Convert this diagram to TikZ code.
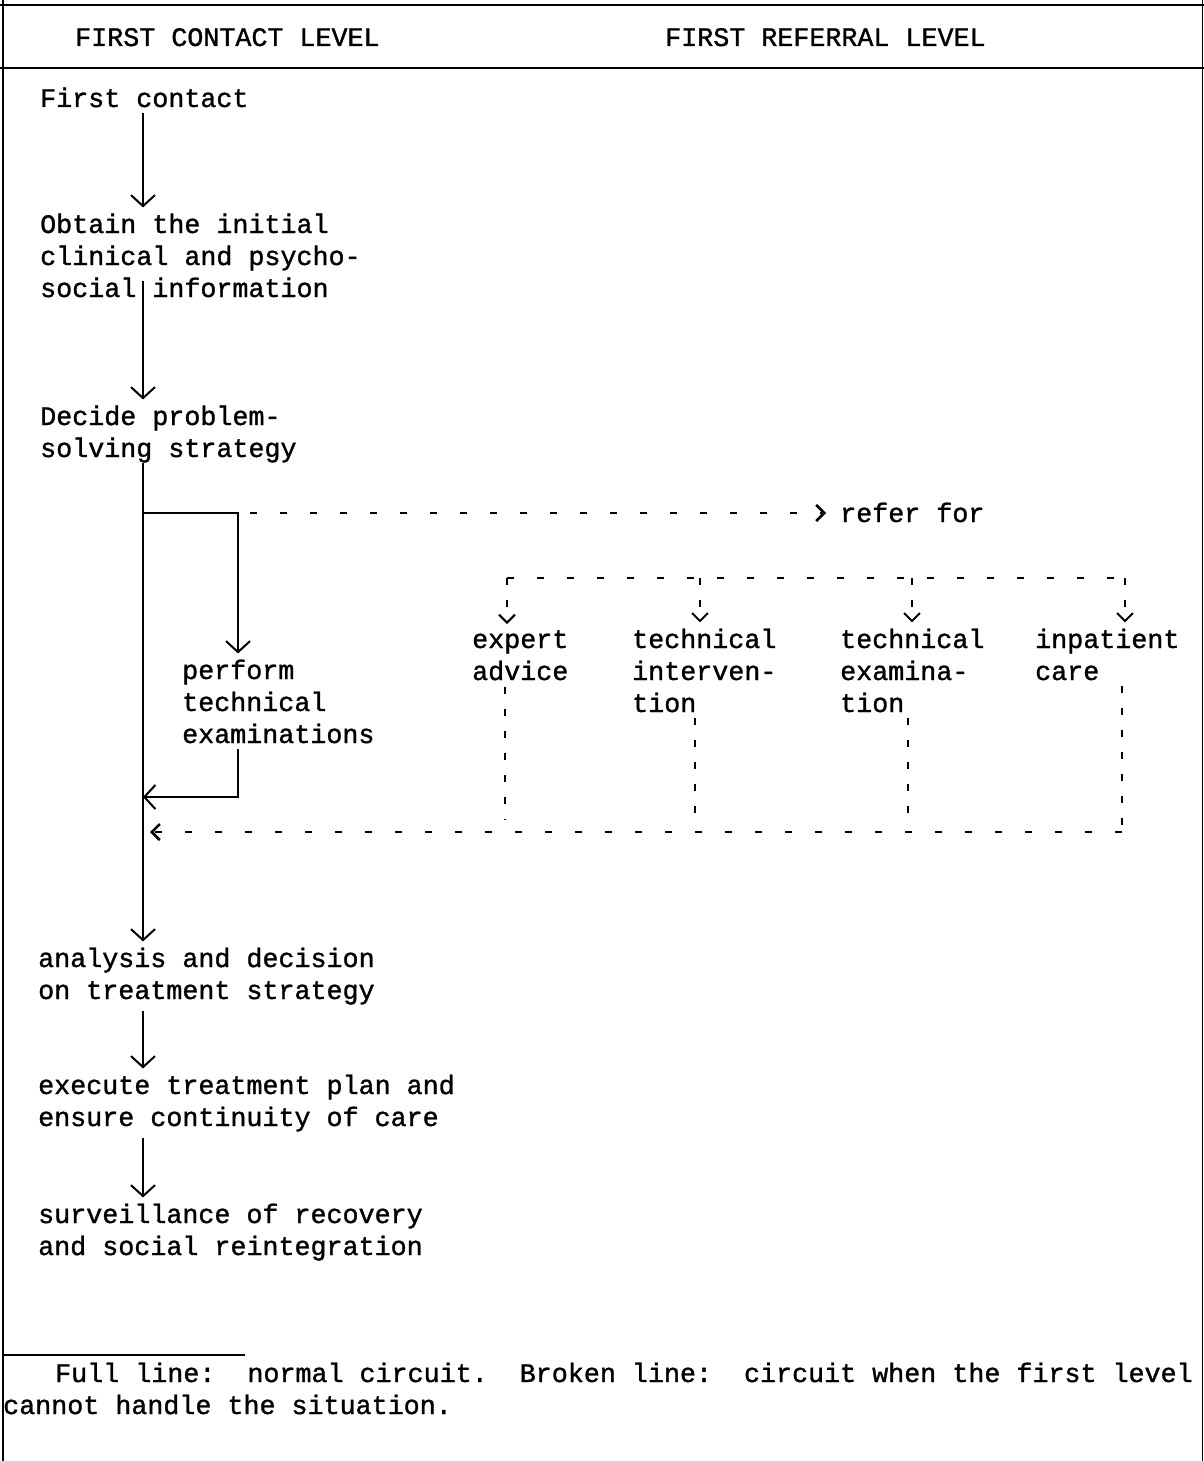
\documentclass[tikz,border=0pt]{standalone}
\usepackage{fontspec}
\newfontfamily\typewr[FakeBold=1.2]{Liberation Mono}
\usetikzlibrary{arrows.meta}

\tikzset{
  txt/.style={anchor=base west, align=left, inner xsep=0pt, inner ysep=6pt,
    font=\typewr\fontsize{26.7}{32}\selectfont},
  flow/.style={line width=2pt, -{Straight Barb[length=11pt,width=24pt]}},
  dline/.style={line width=2.5pt, dash pattern=on 7pt off 23pt},
  dvline/.style={line width=2pt, dash pattern=on 7pt off 15pt},
  dflow/.style={dline, -{Straight Barb[length=8pt,width=16pt]}},
  dvflow/.style={dvline, -{Straight Barb[length=8pt,width=16pt]}}
}

\begin{document}
\begin{tikzpicture}[x=1pt, y=-1pt]
		\useasboundingbox (0,0) rectangle (1204,1461);

		%%% Frame
		\draw[line width=2.5pt] (3,0) -- (3,1461);
		\draw[line width=1pt] (1202,0) -- (1202,1461);
		\draw[line width=2pt] (0,5) -- (1204,5);
		\draw[line width=2pt] (0,68) -- (1204,68);
		\draw[line width=1.5pt] (3,1355) -- (245,1355);

		%%% Headings
		\node[txt] (hdrcontact) at (75,46) {FIRST CONTACT LEVEL};
		\node[txt] (hdrreferral) at (665,46) {FIRST REFERRAL LEVEL};

		%%% First contact level (base = last line)
		\node[txt] (contact) at (40,107) {First contact};
		\node[txt] (obtain) at (40,297) {Obtain the initial\\clinical and psycho-\\social information};
		\node[txt] (decide) at (40,457) {Decide problem-\\solving strategy};
		\node[txt] (perform) at (182,743) {perform\\technical\\examinations};
		\node[txt] (analysis) at (38,999) {analysis and decision\\on treatment strategy};
		\node[txt] (execute) at (38,1126) {execute treatment plan and\\ensure continuity of care};
		\node[txt] (surv) at (38,1255) {surveillance of recovery\\and social reintegration};

		%%% First referral level
		\node[txt] (referfor) at (840,522) {refer for};
		\node[txt] (expert) at (472,680) {expert\\advice};
		\node[txt] (interv) at (632,712) {technical\\interven-\\tion};
		\node[txt] (exam) at (840,712) {technical\\examina-\\tion};
		\node[txt] (inpat) at (1035,680) {inpatient\\care};

		%%% Note
		\node[txt] (note) at (3,1414) {\hspace*{52pt}Full line:\ \ normal circuit.\ \ Broken line:\ \ circuit when the first level\\cannot handle the situation.};

		%%% Normal circuit
		\coordinate (spine) at (143,0);
		\coordinate (tee) at (143,513);
		\coordinate (elbow) at (238,513);
		\coordinate (merge) at (143,797);
		\draw[flow] (contact.south -| spine) -- (obtain.north -| spine);
		\draw[flow, shorten <=-22pt] (obtain.south -| spine) -- (decide.north -| spine);
		\draw[flow, shorten <=-6pt] (decide.south -| spine) -- (analysis.north -| spine);
		\draw[flow] (tee) -- (elbow) -- (elbow |- perform.north);
		\draw[flow] (elbow |- perform.south) |- (merge);
		\draw[flow] (analysis.south -| spine) -- (execute.north -| spine);
		\draw[flow] (execute.south -| spine) -- (surv.north -| spine);

		%%% Referral circuit
		\draw[dflow, shorten >=14pt] ([xshift=12pt]elbow) -- (referfor.west |- elbow);
		\foreach \n/\x in {expert/507, interv/700, exam/912, inpat/1125} {
			\coordinate (drop-\n) at (\x,578);
			\draw[dvflow] (drop-\n) -- (drop-\n |- \n.north);
		}
		\draw[dline] (drop-expert) -- (drop-inpat);

		\coordinate (back) at (1122,832);
		\foreach \n/\x in {expert/505, interv/695, exam/908} {
			\coordinate (up-\n) at (\x,832);
			\draw[dvline] (up-\n |- \n.south) -- ([yshift=12pt]up-\n);
		}
		\draw[dvline] (inpat.south -| back) -- (back);
		\draw[dflow, shorten >=7pt] (back) -- (spine |- back);
\end{tikzpicture}
\end{document}
